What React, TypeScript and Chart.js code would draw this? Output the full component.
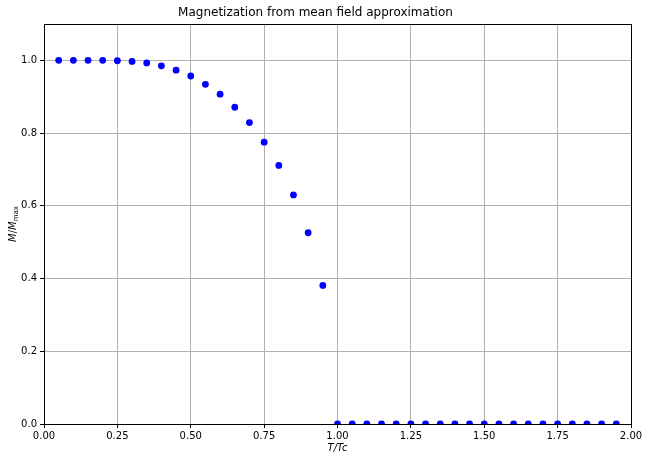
import React, { useEffect, useRef } from "react";
import { Chart, registerables } from "chart.js";

Chart.register(...registerables);

const temperatures: number[] = [
  0.05, 0.1, 0.15, 0.2, 0.25, 0.3, 0.35, 0.4, 0.45, 0.5, 0.55, 0.6, 0.65, 0.7, 0.75, 0.8, 0.85, 0.9, 0.95,
  1.0, 1.05, 1.1, 1.15, 1.2, 1.25, 1.3, 1.35, 1.4, 1.45, 1.5, 1.55, 1.6, 1.65, 1.7, 1.75, 1.8, 1.85, 1.9, 1.95,
];
const magnetization: number[] = [
  1.0, 1.0, 1.0, 1.0, 0.999, 0.997, 0.993, 0.985, 0.973, 0.957, 0.934, 0.907, 0.871, 0.829, 0.775, 0.711, 0.63,
  0.526, 0.381, 0, 0, 0, 0, 0, 0, 0, 0, 0, 0, 0, 0, 0, 0, 0, 0, 0, 0, 0, 0,
];
const titleText = "Magnetization from mean field approximation";
const xTitle = "T/Tc";
const xTickStep = 0.25;
const yTickStep = 0.2;

const FONT = "'DejaVu Sans', sans-serif";

const framePlugin = {
  id: "frameAndYTitle",
  afterDraw(chart: any) {
    const { ctx, chartArea } = chart;
    ctx.save();
    ctx.strokeStyle = "#000";
    ctx.lineWidth = 1;
    ctx.strokeRect(
      Math.round(chartArea.left) + 0.5,
      Math.round(chartArea.top) + 0.5,
      Math.round(chartArea.right) - Math.round(chartArea.left),
      Math.round(chartArea.bottom) - Math.round(chartArea.top)
    );
    // y axis title: M/M_max
    const cy = (chartArea.top + chartArea.bottom) / 2;
    ctx.translate(13.5, cy);
    ctx.rotate(-Math.PI / 2);
    ctx.fillStyle = "#000";
    ctx.textBaseline = "middle";
    const mainFont = `italic 10px ${FONT}`;
    const slashFont = `10px ${FONT}`;
    const subFont = `7px ${FONT}`;
    ctx.font = mainFont;
    const wM = ctx.measureText("M").width;
    ctx.font = slashFont;
    const wS = ctx.measureText("/").width;
    ctx.font = subFont;
    const wSub = ctx.measureText("max").width;
    const total = wM * 2 + wS + wSub;
    let x = -total / 2;
    ctx.textAlign = "left";
    ctx.font = mainFont;
    ctx.fillText("M", x, 0);
    x += wM;
    ctx.font = slashFont;
    ctx.fillText("/", x, 0);
    x += wS;
    ctx.font = mainFont;
    ctx.fillText("M", x, 0);
    x += wM;
    ctx.font = subFont;
    ctx.fillText("max", x, 2.5);
    ctx.restore();
  },
};

export default function App() {
  const canvasRef = useRef<HTMLCanvasElement | null>(null);

  useEffect(() => {
    if (!canvasRef.current) return;
    const chart = new Chart(canvasRef.current, {
      type: "scatter",
      data: {
        datasets: [
          {
            label: "M/Mmax",
            data: temperatures.map((t, i) => ({ x: t, y: magnetization[i] })),
            backgroundColor: "#0000ff",
            borderColor: "#0000ff",
            borderWidth: 0,
            pointRadius: 3.4,
            pointHoverRadius: 3.4,
            clip: 0,
          } as any,
        ],
      },
      options: {
        animation: false,
        responsive: true,
        maintainAspectRatio: false,
        events: [],
        layout: { padding: { left: 0, right: 14, top: 0, bottom: 0 } },
        plugins: {
          legend: { display: false },
          tooltip: { enabled: false },
          title: {
            display: true,
            text: titleText,
            color: "#000",
            font: { family: FONT, size: 12, weight: "normal" as any },
            padding: { top: 6, bottom: 3.6 },
          },
        },
        scales: {
          x: {
            type: "linear",
            min: 0,
            max: 2,
            afterFit(scale: any) {
              scale.height = 30;
            },
            ticks: {
              stepSize: xTickStep,
              color: "#000",
              font: { family: FONT, size: 10 },
              padding: 2,
              maxRotation: 0,
              autoSkip: false,
              callback: (v: any) => Number(v).toFixed(2),
            },
            grid: {
              color: "#b0b0b0",
              lineWidth: 1,
              tickColor: "#000",
              tickLength: 4,
              tickWidth: 1,
            },
            border: { display: true, color: "#000", width: 1 },
            title: {
              display: true,
              text: xTitle,
              color: "#000",
              font: { family: FONT, size: 10, style: "italic" },
              padding: { top: 0, bottom: 0 },
            },
          },
          y: {
            type: "linear",
            min: 0,
            max: 1.1,
            afterFit(scale: any) {
              scale.width = 44;
            },
            ticks: {
              stepSize: yTickStep,
              includeBounds: false,
              color: "#000",
              font: { family: FONT, size: 10 },
              padding: 3,
              callback: (v: any) => Number(v).toFixed(1),
            },
            grid: {
              color: "#b0b0b0",
              lineWidth: 1,
              tickColor: "#000",
              tickLength: 4,
              tickWidth: 1,
            },
            border: { display: true, color: "#000", width: 1 },
          },
        },
      },
      plugins: [framePlugin],
    });
    return () => chart.destroy();
  }, []);

  return (
    <div style={{ position: "fixed", left: 0, top: 0, width: 645, height: 454, background: "#fff" }}>
      <canvas ref={canvasRef} />
    </div>
  );
}
